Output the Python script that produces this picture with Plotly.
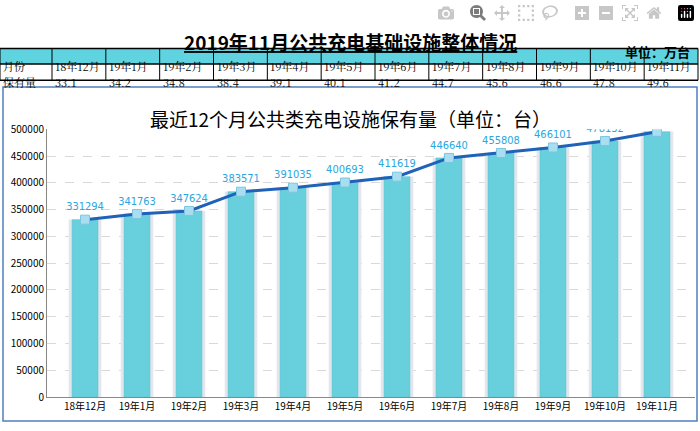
import plotly.graph_objects as go

months = ["18年12月", "19年1月", "19年2月", "19年3月", "19年4月", "19年5月",
          "19年6月", "19年7月", "19年8月", "19年9月", "19年10月", "19年11月"]
stock_wan = ["33.1", "34.2", "34.8", "38.4", "39.1", "40.1",
             "41.2", "44.7", "45.6", "46.6", "47.8", "49.6"]
stock = [331294, 341763, 347624, 383571, 391035, 400693,
         411619, 446640, 455808, 466101, 478132, 495502]

W, H = 700, 431
FONT = "Noto Sans CJK SC"


def fx(x):
    return x / W


def fy(y):
    return 1 - y / H


fig = go.Figure()

# shadow bars + bars
fig.add_trace(go.Bar(x=months, y=stock, width=0.62, marker_color="#e3e6ea",
                     hoverinfo="skip", showlegend=False))
fig.add_trace(go.Bar(x=months, y=stock, width=0.5, marker_color="#68cfdc",
                     marker_line=dict(color="#5cc3d0", width=0.5), showlegend=False))
fig.add_trace(go.Scatter(
    x=months, y=stock, mode="lines+markers+text",
    line=dict(color="#1f62b8", width=3),
    marker=dict(symbol="square", size=9, color="#a9def0", line=dict(color="#7cc5e0", width=1)),
    text=[str(v) for v in stock], textposition="top center",
    textfont=dict(color="#2aa6e0", size=11, family="DejaVu Sans Condensed"),
    showlegend=False))

shapes = []
annotations = []

# title
annotations.append(dict(x=0.5, y=fy(18), xref="paper", yref="paper", showarrow=False,
                        text="<b><u>2019年11月公共充电基础设施整体情况</u></b>",
                        font=dict(size=19, family=FONT, color="black")))
annotations.append(dict(x=fx(692), y=fy(32), xref="paper", yref="paper", showarrow=False,
                        xanchor="right", text="<b>单位：万台</b>",
                        font=dict(size=13, family=FONT, color="black")))

# table
col_edges = [0, 52] + [52 + (698 - 52) * (i + 1) / 12 for i in range(12)]
rows = [(41, 57), (57, 74)]
shapes.append(dict(type="rect", xref="paper", yref="paper", x0=fx(0), x1=fx(698),
                   y0=fy(57), y1=fy(41), fillcolor="#5fd3e0", line=dict(width=0)))
for y in [41, 57, 74]:
    shapes.append(dict(type="line", xref="paper", yref="paper", x0=fx(0), x1=fx(698),
                       y0=fy(y), y1=fy(y), line=dict(color="black", width=1.5)))
for x in col_edges:
    shapes.append(dict(type="line", xref="paper", yref="paper", x0=fx(x), x1=fx(x),
                       y0=fy(41), y1=fy(74), line=dict(color="black", width=1)))
row_texts = [["月份"] + months, ["保有量"] + stock_wan]
for (y0, y1), texts in zip(rows, row_texts):
    for i, t in enumerate(texts):
        annotations.append(dict(x=fx(col_edges[i] + 1), y=fy((y0 + y1) / 2), xref="paper",
                                yref="paper", xanchor="left", showarrow=False, text=t,
                                font=dict(size=11, family="Noto Serif CJK SC, " + FONT,
                                          color="black")))

# chart panel
shapes.append(dict(type="rect", xref="paper", yref="paper", x0=fx(3), x1=fx(697),
                   y0=fy(428), y1=fy(81), line=dict(color="#4f7fbf", width=1.5),
                   layer="below"))
annotations.append(dict(x=0.5, y=fy(98), xref="paper", yref="paper", showarrow=False,
                        text="最近12个月公共类充电设施保有量（单位：台）",
                        font=dict(size=19, family=FONT, color="black")))

fig.update_layout(
    width=W, height=H, margin=dict(l=0, r=0, t=0, b=0),
    plot_bgcolor="white", paper_bgcolor="white",
    barmode="overlay", shapes=shapes, annotations=annotations,
    xaxis=dict(domain=[fx(47), fx(695)], showline=True, linecolor="#888",
               tickfont=dict(size=10, family=FONT, color="black"), ticks=""),
    yaxis=dict(domain=[fy(403), fy(125)], range=[0, 500000], dtick=50000,
               tickformat="d", showgrid=True, gridcolor="#d9d9d9", griddash="dash",
               showline=True, linecolor="#888", zeroline=False,
               tickfont=dict(size=10, family=FONT, color="black")),
)

fig.write_html("out.html",
               post_script="document.body.style.margin='0';document.body.style.overflow='hidden';")
